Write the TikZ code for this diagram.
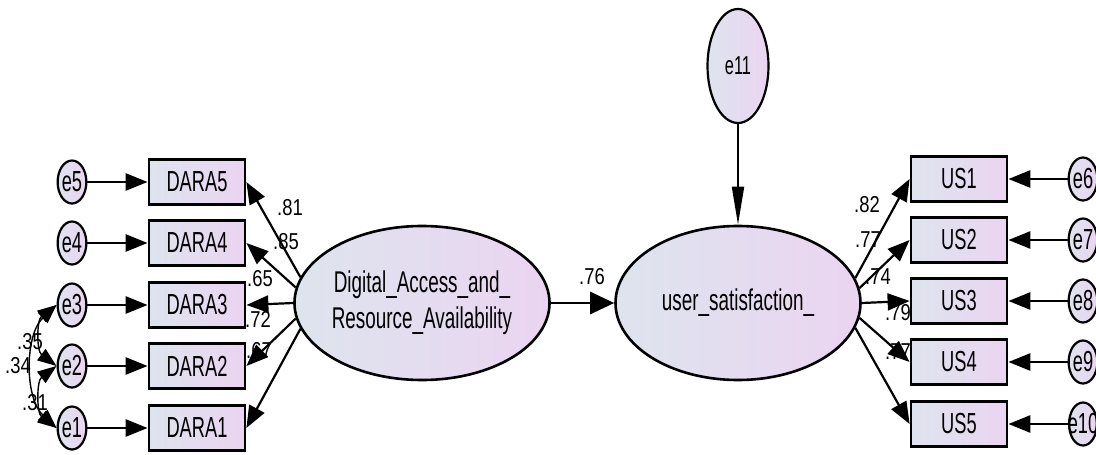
\documentclass[tikz,border=0pt]{standalone}
\usepackage{fontspec}
\setmainfont{Liberation Sans}[FakeStretch=0.63]
\newfontfamily\coeffont{Liberation Sans}[FakeStretch=0.8]
\usetikzlibrary{shapes.geometric,arrows.meta}
\definecolor{shadeL}{RGB}{222,228,238}
\definecolor{shadeR}{RGB}{235,212,241}

\begin{document}
\begin{tikzpicture}[x=1pt,y=-1pt,
    obsbox/.style={draw,line width=2.8pt,left color=shadeL,right color=shadeR,
        minimum width=96pt,minimum height=45pt,inner sep=0pt,font=\fontsize{29}{30}\selectfont},
    errnode/.style={ellipse,draw,line width=2.2pt,left color=shadeL,right color=shadeR,
        minimum width=28pt,minimum height=43pt,inner sep=0pt,font=\fontsize{29}{30}\selectfont},
    latent/.style={ellipse,draw,line width=2.6pt,left color=shadeL,right color=shadeR,
        minimum width=245pt,minimum height=154pt,inner sep=0pt,align=center,
        font=\fontsize{30}{36}\selectfont},
    coef/.style={font=\coeffont\fontsize{23}{24}\selectfont,inner sep=0pt},
    regarrow/.style={line width=2.8pt,-{Triangle[length=22pt,width=17pt]}},
    covarrow/.style={line width=1.4pt,{Triangle[length=19pt,width=14pt]}-{Triangle[length=19pt,width=14pt]}}]
    \useasboundingbox (0,0) rectangle (1096,455);

    % left block
    \node [errnode] (e5) at (72,182) {e5};
    \node [errnode] (e4) at (72,243) {e4};
    \node [errnode] (e3) at (72,305) {e3};
    \node [errnode] (e2) at (72,366) {e2};
    \node [errnode] (e1) at (72,428) {e1};

    \node [obsbox] (D5) at (197,182) {DARA5};
    \node [obsbox] (D4) at (197,243) {DARA4};
    \node [obsbox] (D3) at (197,305) {DARA3};
    \node [obsbox] (D2) at (197,366) {DARA2};
    \node [obsbox] (D1) at (197,428) {DARA1};

    \node [latent] (dara) at (422,303) {Digital\_Access\_and\_\\Resource\_Availability};
    \node [latent] (us) at (738,303) {user\_satisfaction\_};
    \node [errnode,minimum width=61pt,minimum height=114pt,font=\fontsize{26}{28}\selectfont] (e11) at (738,66) {e11};

    % right block
    \node [obsbox] (U1) at (959,179) {US1};
    \node [obsbox] (U2) at (959,240) {US2};
    \node [obsbox] (U3) at (959,301) {US3};
    \node [obsbox] (U4) at (959,362) {US4};
    \node [obsbox] (U5) at (959,424) {US5};

    \node [errnode] (e6) at (1083,179) {e6};
    \node [errnode] (e7) at (1083,240) {e7};
    \node [errnode] (e8) at (1083,301) {e8};
    \node [errnode] (e9) at (1083,362) {e9};
    \node [errnode,inner xsep=-7pt] (e10) at (1083,424) {e10};

    % weights
    \node [coef] (w5) at (290,208) {.81};
    \node [coef] (w4) at (286,242) {.85};
    \node [coef] (w3) at (260,279) {.65};
    \node [coef] (w2) at (258,319) {.72};
    \node [coef] (w1) at (259,351) {.67};
    \node [coef] (v1) at (867,205) {.82};
    \node [coef] (v2) at (868,240) {.77};
    \node [coef] (v3) at (878,277) {.74};
    \node [coef] (v4) at (898,313) {.79};
    \node [coef] (v5) at (898,352) {.77};
    \node [coef] (b1) at (592,277) {.76};
    \node [coef] (c32) at (30,342) {.35};
    \node [coef] (c31) at (18,366) {.34};
    \node [coef] (c21) at (35,403) {.31};

    \draw[regarrow] (e5) -- (D5);
    \draw[regarrow] (e4) -- (D4);
    \draw[regarrow] (e3) -- (D3);
    \draw[regarrow] (e2) -- (D2);
    \draw[regarrow] (e1) -- (D1);

    \draw[regarrow,line width=2.2pt] (dara.168) -- (D5.east);
    \draw[regarrow,line width=2.2pt] (dara.173) -- (D4.east);
    \draw[regarrow,line width=2.2pt] (dara.180) -- (D3.east);
    \draw[regarrow,line width=2.2pt] (dara.187) -- (D2.east);
    \draw[regarrow,line width=2.2pt] (dara.192) -- (D1.east);

    \draw[regarrow,line width=2.2pt] (us.12) -- (U1.west);
    \draw[regarrow,line width=2.2pt] (us.7) -- (U2.west);
    \draw[regarrow,line width=2.2pt] (us.0) -- (U3.west);
    \draw[regarrow,line width=2.2pt] (us.-7) -- (U4.west);
    \draw[regarrow,line width=2.2pt] (us.-12) -- (U5.west);

    \draw[regarrow] (e6) -- (U1);
    \draw[regarrow] (e7) -- (U2);
    \draw[regarrow] (e8) -- (U3);
    \draw[regarrow] (e9) -- (U4);
    \draw[regarrow] (e10) -- (U5);

    \draw[regarrow,-{Triangle[length=24pt,width=22pt]}] (dara) -- (us);
    \draw[line width=1.8pt,-{Triangle[length=38pt,width=12pt]}] (e11) -- (us);

    % covariances
    \draw[covarrow] (e3.west) .. controls +(-20,15) and +(-20,-15) .. (e2.west);
    \draw[covarrow] (e3.west) .. controls +(-32,30) and +(-32,-30) .. (e1.west);
    \draw[covarrow] (e2.west) .. controls +(-20,15) and +(-20,-15) .. (e1.west);
\end{tikzpicture}
\end{document}
